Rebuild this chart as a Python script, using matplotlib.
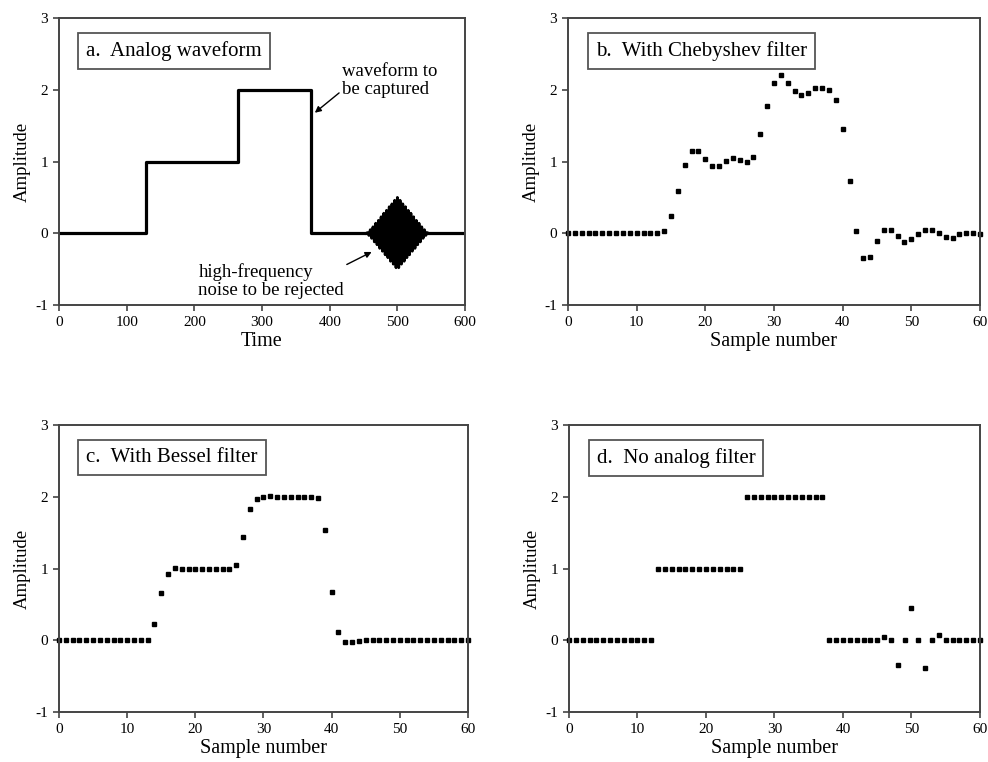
import numpy as np
import matplotlib
matplotlib.use('Agg')
from matplotlib import pyplot as plt

plt.rcParams['font.family'] = ['Liberation Serif', 'DejaVu Serif']
plt.rcParams['axes.unicode_minus'] = False

# panel a: analog waveform (step edges and levels)
step_time = [0, 128, 264, 372, 600]
step_level = [0, 1, 2, 0, 0]

# high-frequency burst, peaks
burst_time = np.arange(454, 548, 2)
burst_amp = [0.0, 0.01, -0.03, 0.05, -0.07, 0.09, -0.12, 0.14, -0.16, 0.18, -0.21,
             0.23, -0.25, 0.28, -0.30, 0.32, -0.34, 0.37, -0.39, 0.41, -0.43,
             0.46, -0.48, 0.50, -0.48, 0.46, -0.43, 0.41, -0.39, 0.37, -0.34,
             0.32, -0.30, 0.28, -0.25, 0.23, -0.21, 0.18, -0.16, 0.14, -0.12,
             0.09, -0.07, 0.05, -0.03, 0.01, 0.0]

samples = np.arange(61)

chebyshev = [0, 0, 0, 0, 0, 0, 0, 0, 0, 0,
             0, 0, 0, 0, 0.03, 0.24, 0.59, 0.95, 1.15, 1.15,
             1.03, 0.94, 0.94, 1.01, 1.05, 1.02, 0.99, 1.07, 1.38, 1.78,
             2.09, 2.20, 2.09, 1.98, 1.93, 1.96, 2.03, 2.03, 2.00, 1.86,
             1.45, 0.73, 0.03, -0.35, -0.33, -0.11, 0.04, 0.04, -0.04, -0.12,
             -0.08, -0.01, 0.05, 0.05, 0.0, -0.05, -0.06, -0.01, 0.0, 0.01,
             -0.01]

bessel = [0, 0, 0, 0, 0, 0, 0, 0, 0, 0,
          0, 0, 0, 0, 0.22, 0.66, 0.92, 1.01, 1.0, 0.99,
          0.99, 1.0, 1.0, 1.0, 1.0, 1.0, 1.05, 1.44, 1.83, 1.97,
          2.0, 2.01, 2.0, 2.0, 2.0, 2.0, 2.0, 2.0, 1.99, 1.54,
          0.67, 0.12, -0.02, -0.02, -0.01, 0, 0, 0, 0, 0,
          0, 0, 0, 0, 0, 0, 0, 0, 0, 0,
          0]

no_filter = [0, 0, 0, 0, 0, 0, 0, 0, 0, 0,
             0, 0, 0, 1, 1, 1, 1, 1, 1, 1,
             1, 1, 1, 1, 1, 1, 2, 2, 2, 2,
             2, 2, 2, 2, 2, 2, 2, 2, 0, 0,
             0, 0, 0, 0, 0, 0, 0.05, 0, -0.34, 0,
             0.45, 0, -0.38, 0, 0.08, 0, 0, 0, 0, 0,
             0]

SPINE = '#444444'


def style(ax, xmax, xstep, xlabel, title):
    ax.set_xlim(0, xmax)
    ax.set_ylim(-1, 3)
    ax.set_xticks(np.arange(0, xmax + 1, xstep))
    ax.set_yticks([-1, 0, 1, 2, 3])
    for s in ax.spines.values():
        s.set_color(SPINE)
        s.set_linewidth(1.4)
    ax.tick_params(direction='out', length=4, width=1.2, color=SPINE,
                   labelsize=11, pad=4, top=False, right=False)
    ax.set_xlabel(xlabel, fontsize=14.5, labelpad=2)
    ax.set_ylabel('Amplitude', fontsize=13.5, labelpad=3)
    ax.text(0.067, 0.92, title, transform=ax.transAxes, fontsize=15,
            va='top', ha='left',
            bbox=dict(boxstyle='square,pad=0.38', fc='white', ec='#555555', lw=1.3))


fig = plt.figure(figsize=(9.88, 7.62), dpi=100)
ax_a = fig.add_axes([0.0597, 0.5997, 0.411, 0.3766])
ax_b = fig.add_axes([0.5749, 0.5997, 0.417, 0.3766])
ax_c = fig.add_axes([0.0597, 0.0656, 0.414, 0.3766])
ax_d = fig.add_axes([0.5759, 0.0656, 0.416, 0.3766])

# a. analog waveform
ax_a.step(step_time, step_level, where='post', color='black', lw=2.3)
ax_a.plot(burst_time, burst_amp, color='black', lw=2.0)
style(ax_a, 600, 100, 'Time', 'a.  Analog waveform')
ax_a.annotate('waveform to\nbe captured', xy=(378, 1.68), xytext=(418, 1.88),
              fontsize=13.5, ha='left', va='bottom', linespacing=1.1,
              arrowprops=dict(arrowstyle='-|>', color='black', lw=1.0,
                              mutation_scale=9, shrinkA=0, shrinkB=0,
                              relpos=(0.0, 0.22)))
ax_a.annotate('high-frequency\nnoise to be rejected', xy=(462, -0.26), xytext=(206, -0.92),
              fontsize=13.5, ha='left', va='bottom', linespacing=1.1,
              arrowprops=dict(arrowstyle='-|>', color='black', lw=1.0,
                              mutation_scale=9, shrinkA=0, shrinkB=0,
                              relpos=(0.9, 0.72)))

for ax, vals, title in [(ax_b, chebyshev, 'b.  With Chebyshev filter'),
                        (ax_c, bessel, 'c.  With Bessel filter'),
                        (ax_d, no_filter, 'd.  No analog filter')]:
    ax.plot(samples, vals, 's', color='black', markersize=3.4, clip_on=False)
    style(ax, 60, 10, 'Sample number', title)

fig.savefig('out.png', dpi=100, facecolor='white')
